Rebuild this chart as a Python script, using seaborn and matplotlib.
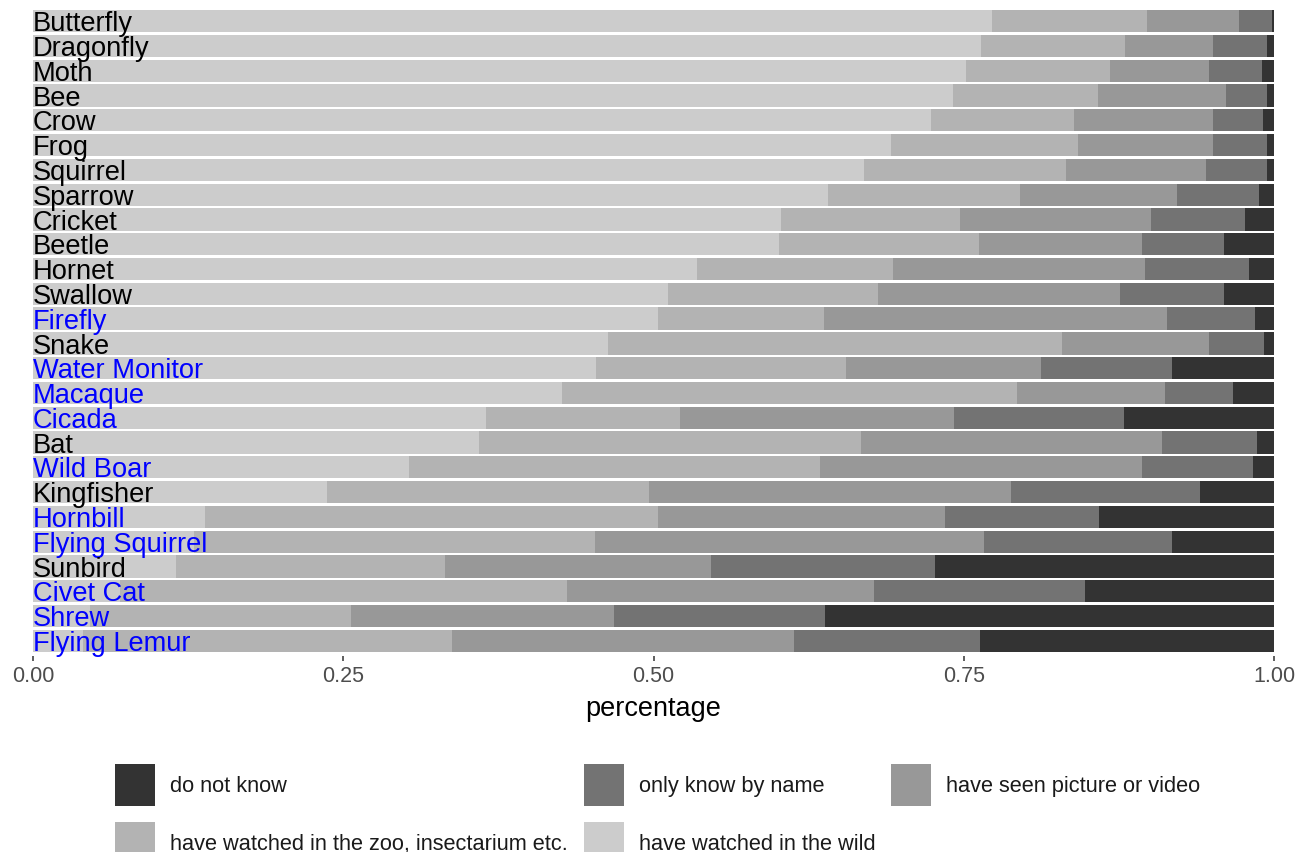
import numpy as np
import seaborn as sns
import matplotlib.pyplot as plt
from matplotlib.patches import Patch

# animals, top to bottom
animals = ["Butterfly", "Dragonfly", "Moth", "Bee", "Crow", "Frog", "Squirrel",
           "Sparrow", "Cricket", "Beetle", "Hornet", "Swallow", "Firefly", "Snake",
           "Water Monitor", "Macaque", "Cicada", "Bat", "Wild Boar", "Kingfisher",
           "Hornbill", "Flying Squirrel", "Sunbird", "Civet Cat", "Shrew", "Flying Lemur"]
blue_animals = ["Firefly", "Water Monitor", "Macaque", "Cicada", "Wild Boar", "Hornbill",
                "Flying Squirrel", "Civet Cat", "Shrew", "Flying Lemur"]

# share of answers per level (reads off the picture)
wild = [.773, .764, .752, .741, .724, .691, .670, .641, .603, .601, .535, .512, .504,
        .463, .454, .426, .365, .359, .303, .237, .139, .130, .115, .070, .046, .040]
zoo = [.125, .116, .116, .117, .115, .151, .162, .154, .144, .161, .158, .169, .133,
       .366, .201, .367, .156, .308, .331, .259, .365, .323, .217, .360, .210, .298]
picture = [.074, .071, .080, .103, .112, .109, .113, .127, .154, .132, .203, .195, .277,
           .119, .157, .119, .221, .243, .260, .292, .231, .313, .214, .248, .212, .275]
name_only = [.026, .043, .042, .033, .040, .043, .049, .066, .076, .066, .084, .084, .071,
             .044, .106, .055, .137, .076, .089, .152, .124, .152, .181, .170, .170, .150]
dont_know = [.002, .006, .010, .006, .009, .006, .006, .012, .023, .040, .020, .040, .015,
             .008, .082, .033, .121, .014, .017, .060, .141, .082, .273, .152, .362, .237]

levels = ["have watched in the wild", "have watched in the zoo, insectarium etc.",
          "have seen picture or video", "only know by name", "do not know"]
colors = ["#cccccc", "#b3b3b3", "#989898", "#737373", "#333333"]

sns.set_theme(style="white")
plt.rcParams["font.family"] = ["Liberation Sans", "DejaVu Sans"]

fig = plt.figure(figsize=(13.05, 8.52), dpi=100)
ax = fig.add_axes([33 / 1305, 1 - 655.7 / 852, 1241 / 1305, 649.4 / 852])

# stacked bars: draw cumulative totals, longest first
cum = np.cumsum(np.array([wild, zoo, picture, name_only, dont_know]), axis=0)
for i in range(4, -1, -1):
    sns.barplot(x=cum[i], y=animals, color=colors[i], orient="h", width=0.9,
                saturation=1, linewidth=0, ax=ax)

ax.set_xlim(0, 1)
ax.set_ylim(len(animals) - 0.4, -0.6)
ax.set_xticks([0, 0.25, 0.5, 0.75, 1.0])
ax.set_xticklabels(["0.00", "0.25", "0.50", "0.75", "1.00"])
ax.tick_params(axis="x", bottom=True, length=3.6, width=1.1, color="#333333",
               labelsize=15.5, labelcolor="#4d4d4d", pad=4)
ax.tick_params(axis="y", left=False, labelleft=False)
ax.set_ylabel("")
ax.set_xlabel("percentage", fontsize=19.5, color="black", labelpad=6)
for s in ax.spines.values():
    s.set_visible(False)

# animal names inside the bars
for i, a in enumerate(animals):
    ax.text(0, i + 0.41, a, ha="left", va="baseline", fontsize=19.6,
            color="#0000ff" if a in blue_animals else "black")

# legend, row-wise: do not know, name, picture / zoo, wild
order = [4, 1, 3, 0, 2]
handles = [Patch(facecolor=colors[k], edgecolor="none") for k in order]
labels = [levels[k] for k in order]
fig.legend(handles, labels, ncol=3, loc="upper left",
           bbox_to_anchor=(115 / 1305, 1 - 764 / 852), frameon=False,
           fontsize=15.7, labelcolor="#1a1a1a", borderpad=0, borderaxespad=0,
           handlelength=1.83, handleheight=2.6, handletextpad=0.69,
           columnspacing=0.73, labelspacing=0.73)

fig.savefig("out.png", dpi=100)
